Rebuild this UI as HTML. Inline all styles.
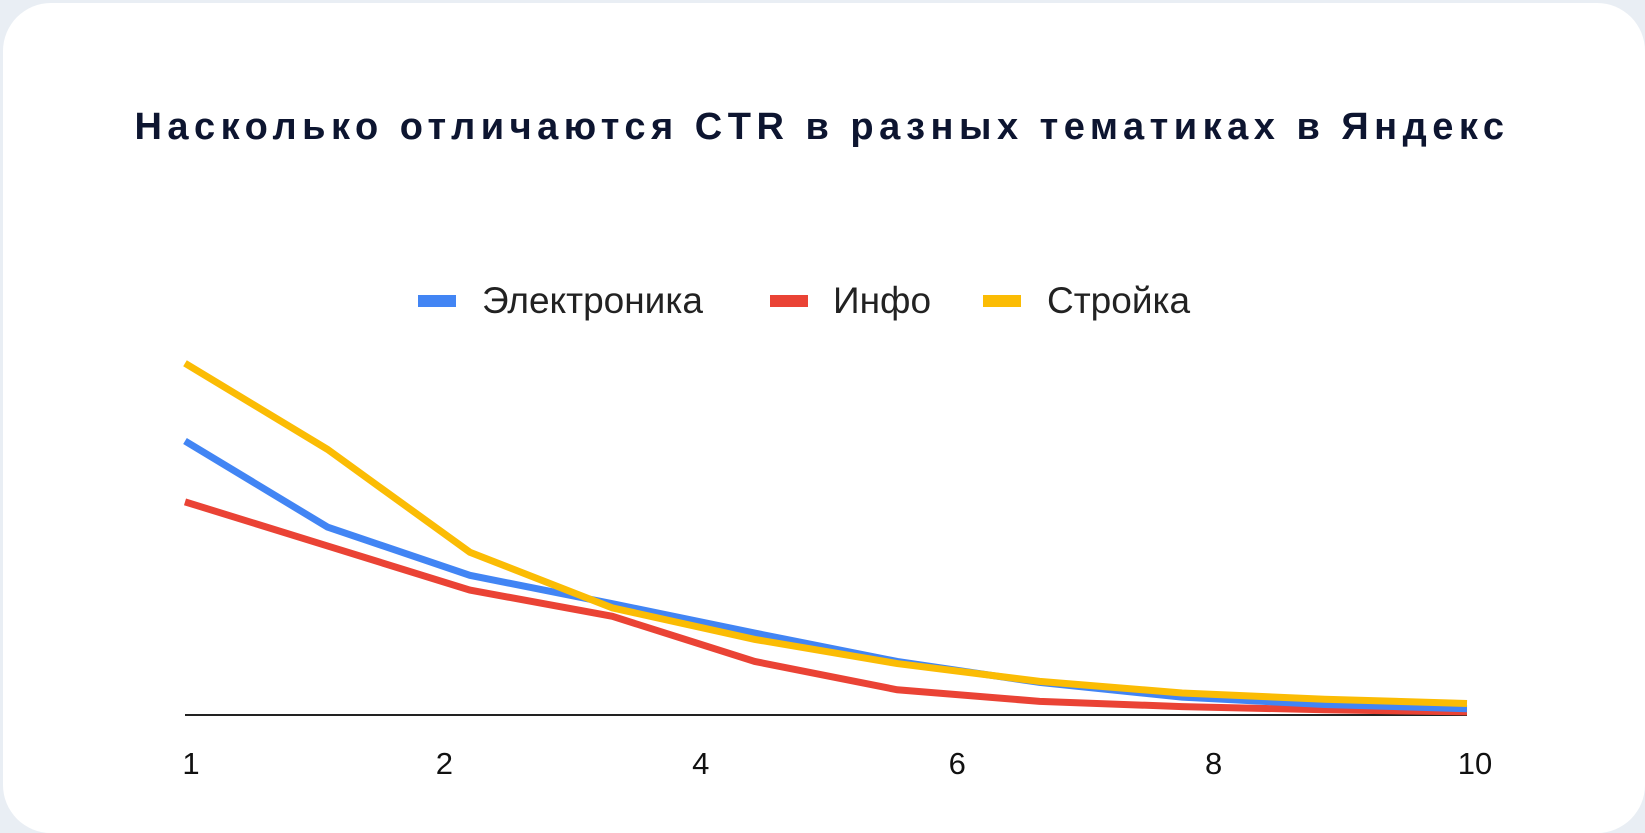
<!DOCTYPE html>
<html><head><meta charset="utf-8"><style>
body{margin:0;width:1645px;height:822px;background:#e9eef4;overflow:hidden;font-family:"Liberation Sans",sans-serif}
.card{position:absolute;left:3px;top:3px;width:1642px;height:830px;background:#fff;border-radius:48px}
</style></head><body>
<div class="card"></div>
<svg width="1645" height="822" style="position:absolute;left:0;top:0">
<text x="822" y="139" text-anchor="middle" font-family="Liberation Sans, sans-serif" font-weight="bold" font-size="38" letter-spacing="5.5" fill="#0d1530">Насколько отличаются CTR в разных тематиках в Яндекс</text>
<g>
<rect x="418" y="295" width="38" height="12" fill="#4285f4"/>
<text x="482" y="313" font-size="37" fill="#222">Электроника</text>
<rect x="770" y="295" width="38" height="12" fill="#ea4335"/>
<text x="833" y="313" font-size="37" fill="#222">Инфо</text>
<rect x="983" y="295" width="38" height="12" fill="#fbbc04"/>
<text x="1047" y="313" font-size="37" fill="#222">Стройка</text>
</g>
<g id="plot"></g>
</svg>
<script>
const categories=[1,2,3,4,5,6,7,8,9,10];
const electronics=[26.1,17.9,13.3,10.6,7.8,5.1,3.1,1.7,1.0,0.6];
const info=[20.3,16.1,11.9,9.4,5.1,2.4,1.3,0.8,0.5,0.3];
const stroyka=[33.5,25.3,15.5,10.2,7.2,4.9,3.2,2.1,1.5,1.1];
const tickLabels=["1","2","4","6","8","10"];
const X0=185,X1=1467,Y0=715,YS=10.5;
const xs=i=>X0+i*(X1-X0)/(categories.length-1);
const ys=v=>Y0-v*YS;
const NS="http://www.w3.org/2000/svg";
const g=document.getElementById('plot');
const ax=document.createElementNS(NS,'line');
ax.setAttribute('x1',X0);ax.setAttribute('x2',X1);ax.setAttribute('y1',Y0);ax.setAttribute('y2',Y0);
ax.setAttribute('stroke','#222');ax.setAttribute('stroke-width','2');


g.appendChild(ax);
tickLabels.forEach((t,i)=>{
 const tx=document.createElementNS(NS,'text');
 const x=X0+i*(X1-X0)/(tickLabels.length-1);
 tx.setAttribute('x',i==0?x+6:(i==tickLabels.length-1?x+8:x+3));
 tx.setAttribute('y',774);tx.setAttribute('text-anchor','middle');
 tx.setAttribute('font-size','31');tx.setAttribute('fill','#111');
 tx.textContent=t;
 
 
 g.appendChild(tx);
});
[[info,'#ea4335','line-info'],[electronics,'#4285f4','line-electronics'],[stroyka,'#fbbc04','line-stroyka']].forEach(([d,c,n])=>{
 const p=document.createElementNS(NS,'polyline');
 p.setAttribute('points',d.map((v,i)=>xs(i)+','+ys(v)).join(' '));
 p.setAttribute('fill','none');p.setAttribute('stroke',c);p.setAttribute('stroke-width','7');
 
 
 g.appendChild(p);
});
</script>
</body></html>
